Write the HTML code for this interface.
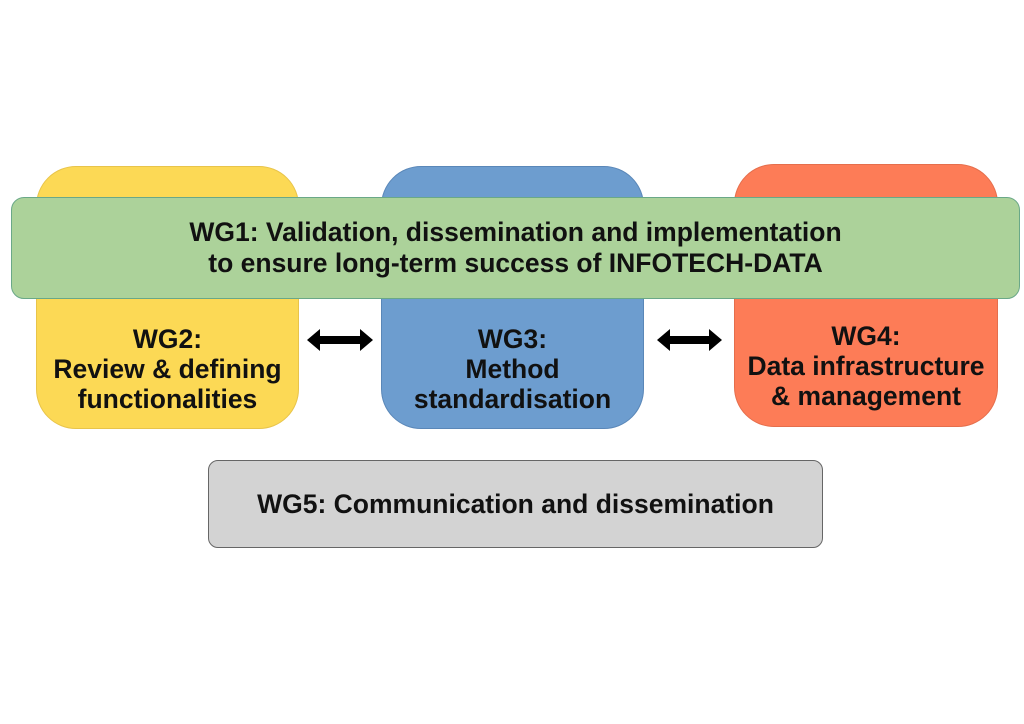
<!DOCTYPE html>
<html><head><style>
body{margin:0;width:1024px;height:724px;background:#fff;position:relative;overflow:hidden;font-family:"Liberation Sans",sans-serif;font-weight:bold;color:#111}
.b{position:absolute;box-sizing:border-box;display:flex;align-items:center;justify-content:center;text-align:center;font-size:26.5px;line-height:30px}
</style></head><body>
<div class="b" style="left:36px;top:166px;width:263px;height:263px;background:#fcd955;border:1px solid #e8c44a;border-radius:40px;padding-top:142px">WG2:<br>Review &amp; defining<br>functionalities</div>
<div class="b" style="left:381px;top:166px;width:263px;height:263px;background:#6d9dcf;border:1px solid #5a87b8;border-radius:40px;padding-top:142px">WG3:<br>Method<br>standardisation</div>
<div class="b" style="left:734px;top:164px;width:264px;height:263px;background:#fd7c57;border:1px solid #e56e4c;border-radius:40px;padding-top:140px">WG4:<br>Data infrastructure<br>&amp; management</div>
<div class="b" style="left:11px;top:197px;width:1009px;height:102px;background:#acd29a;border:1px solid #6aa888;border-radius:13px;line-height:31px">WG1: Validation, dissemination and implementation<br>to ensure long-term success of INFOTECH-DATA</div>
<div class="b" style="left:208px;top:460px;width:615px;height:88px;background:#d3d3d3;border:1px solid #666;border-radius:10px">WG5: Communication and dissemination</div>
<svg style="position:absolute;left:0;top:0" width="1024" height="724">
<polygon points="307,340 320,329 320,336 360,336 360,329 373,340 360,351 360,344 320,344 320,351" fill="#000"/>
<polygon points="657,340 670,329 670,336 709,336 709,329 722,340 709,351 709,344 670,344 670,351" fill="#000"/>
</svg>
</body></html>
